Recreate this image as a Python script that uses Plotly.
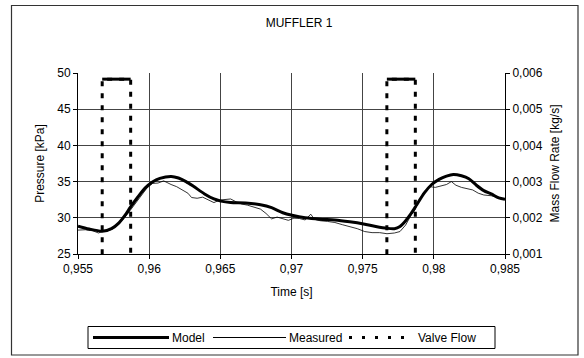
import plotly.graph_objects as go

# ---------------- data ----------------
model_t = [0.95500, 0.95578, 0.95670, 0.95735, 0.95788, 0.95840, 0.95866, 0.95918,
           0.95971, 0.96023, 0.96075, 0.96155, 0.96206, 0.96259, 0.96311, 0.96389,
           0.96455, 0.96504, 0.96572, 0.96677, 0.96782, 0.96860, 0.96939, 0.97004,
           0.97096, 0.97200, 0.97305, 0.97409, 0.97506, 0.97592, 0.97671, 0.97723,
           0.97762, 0.97802, 0.97841, 0.97880, 0.97932, 0.97985, 0.98037, 0.98089,
           0.98137, 0.98194, 0.98246, 0.98299, 0.98351, 0.98403, 0.98456, 0.98500]
model_p = [28.85, 28.45, 28.15, 28.5, 29.3, 30.6, 31.4, 32.8,
           34.1, 34.95, 35.45, 35.72, 35.5, 35.0, 34.35, 33.3,
           32.6, 32.3, 32.1, 32.05, 31.8, 31.4, 30.7, 30.35,
           30.0, 29.8, 29.7, 29.45, 29.15, 28.8, 28.55, 28.5,
           28.8, 29.6, 30.6, 31.8, 33.4, 34.6, 35.3, 35.75,
           35.98, 35.8, 35.4, 34.5, 33.75, 33.3, 32.75, 32.55]

meas_t = [0.95500, 0.95552, 0.95605, 0.95644, 0.95670, 0.95709, 0.95748, 0.95788,
          0.95827, 0.95866, 0.95905, 0.95945, 0.95984, 0.96023, 0.96062, 0.96102,
          0.96128, 0.96154, 0.96193, 0.96232, 0.96272, 0.96298, 0.96337, 0.96376,
          0.96415, 0.96455, 0.96494, 0.96533, 0.96572, 0.96612, 0.96651, 0.96690,
          0.96729, 0.96782, 0.96821, 0.96860, 0.96899, 0.96939, 0.96978, 0.97017,
          0.97056, 0.97096, 0.97135, 0.97161, 0.97200, 0.97252, 0.97305, 0.97357,
          0.97409, 0.97462, 0.97514, 0.97566, 0.97619, 0.97671, 0.97723, 0.97762,
          0.97802, 0.97841, 0.97867, 0.97893, 0.97932, 0.97972, 0.98011, 0.98050,
          0.98089, 0.98123, 0.98155, 0.98194, 0.98233, 0.98273, 0.98312, 0.98351,
          0.98403, 0.98456, 0.98500]
meas_p = [28.3, 28.35, 28.2, 27.9, 28.1, 28.2, 28.5, 29.2,
          30.0, 31.0, 32.0, 33.1, 34.1, 34.75, 34.8, 35.1,
          34.8, 34.6, 34.3, 33.8, 33.4, 32.8, 32.7, 32.85,
          32.5, 32.1, 32.45, 32.5, 32.6, 32.2, 31.9, 31.75,
          31.5, 31.2, 30.6, 29.85, 30.1, 29.85, 29.65, 29.95,
          29.9, 29.7, 30.5, 29.8, 29.6, 29.5, 29.35, 29.05,
          28.8, 28.5, 28.1, 27.95, 27.95, 27.8, 27.9, 28.1,
          29.0, 30.4, 31.1, 32.3, 33.6, 34.3, 34.2, 34.35,
          34.6, 35.0, 34.5, 34.2, 34.0, 33.85, 33.4, 33.15,
          33.05, 32.75, 32.5]

valve_t = [0.9567, 0.9567, 0.9587, 0.9587, None, 0.9767, 0.9767, 0.9787, 0.9787]
valve_q = [0.0, 0.00583, 0.00583, 0.0, None, 0.0, 0.00583, 0.00583, 0.0]

x_ticks = [0.955, 0.96, 0.965, 0.97, 0.975, 0.98, 0.985]
y_ticks = [25, 30, 35, 40, 45, 50]
y2_ticks = [0.001, 0.002, 0.003, 0.004, 0.005, 0.006]

legend_names = ["Model", "Measured", "Valve Flow"]

# ---------------- layout geometry (pixels) ----------------
W, H = 584, 358
L, R, T, B = 78, 505, 73, 254
FONT = "Liberation Sans, Arial, sans-serif"


def px(x):
    return (x - L) / (R - L)


def py(y):
    return (B - y) / (B - T)


# top (flat, non-zero) parts of the valve pulses, drawn solid as in the source
top_t, top_q = [], []
for i in range(len(valve_t) - 1):
    a, b = valve_q[i], valve_q[i + 1]
    if a is not None and b is not None and a == b and a > 0:
        top_t += [valve_t[i], valve_t[i + 1], None]
        top_q += [a, b, None]

fig = go.Figure()
fig.add_trace(go.Scatter(x=model_t, y=model_p, name=legend_names[0], mode="lines",
                         line=dict(color="black", width=3, shape="spline", smoothing=0.8),
                         showlegend=False))
fig.add_trace(go.Scatter(x=meas_t, y=meas_p, name=legend_names[1], mode="lines",
                         line=dict(color="black", width=0.8), showlegend=False))
fig.add_trace(go.Scatter(x=valve_t, y=valve_q, name=legend_names[2], mode="lines",
                         yaxis="y2", connectgaps=False,
                         line=dict(color="black", width=3, dash="5px,7px"),
                         showlegend=False))
fig.add_trace(go.Scatter(x=top_t, y=top_q, name=legend_names[2], mode="lines",
                         yaxis="y2", connectgaps=False, hoverinfo="skip",
                         line=dict(color="black", width=3), showlegend=False))

shapes = [
    # outer chart border
    dict(type="rect", xref="paper", yref="paper", x0=px(11.5), x1=px(578),
         y0=py(355), y1=py(5.5), line=dict(color="#333", width=1.2), layer="below"),
    # legend box
    dict(type="rect", xref="paper", yref="paper", x0=px(88), x1=px(495),
         y0=py(348.5), y1=py(326.5), line=dict(color="black", width=1)),
    # legend symbols
    dict(type="line", xref="paper", yref="paper", x0=px(93), x1=px(169),
         y0=py(337.5), y1=py(337.5), line=dict(color="black", width=3)),
    dict(type="line", xref="paper", yref="paper", x0=px(213), x1=px(286),
         y0=py(337.5), y1=py(337.5), line=dict(color="black", width=1)),
    dict(type="line", xref="paper", yref="paper", x0=px(349), x1=px(414),
         y0=py(337.5), y1=py(337.5), line=dict(color="black", width=3, dash="3px,10px")),
]
annotations = [
    dict(text=legend_names[0], xref="paper", yref="paper", x=px(170), y=py(337.5),
         xanchor="left", yanchor="middle", showarrow=False, font=dict(size=12)),
    dict(text=legend_names[1], xref="paper", yref="paper", x=px(287), y=py(337.5),
         xanchor="left", yanchor="middle", showarrow=False, font=dict(size=12)),
    dict(text=legend_names[2], xref="paper", yref="paper", x=px(416), y=py(337.5),
         xanchor="left", yanchor="middle", showarrow=False, font=dict(size=12)),
]

fig.update_layout(
    width=W, height=H,
    margin=dict(l=L, r=W - R, t=T, b=H - B, pad=0),
    paper_bgcolor="white", plot_bgcolor="white",
    separators=",.",
    font=dict(family=FONT, size=12, color="black"),
    title=dict(text="MUFFLER 1", x=299 / W, xref="container", xanchor="center",
               y=1 - 23 / H, yref="container", yanchor="middle",
               font=dict(size=12, color="black")),
    xaxis=dict(range=[0.955, 0.985], tickvals=x_ticks, showgrid=True,
               gridcolor="#444", gridwidth=1, zeroline=False,
               showline=True, linecolor="black", linewidth=1,
               ticks="outside", ticklen=4, tickcolor="black",
               tickfont=dict(size=12), title=dict(text="Time [s]", standoff=12,
                                                  font=dict(size=12))),
    yaxis=dict(range=[25, 50], tickvals=y_ticks, showgrid=True,
               gridcolor="#444", gridwidth=1, zeroline=False,
               showline=True, linecolor="black", linewidth=1,
               ticks="outside", ticklen=4, tickcolor="black",
               tickfont=dict(size=12), title=dict(text="Pressure [kPa]", standoff=10,
                                                  font=dict(size=12))),
    yaxis2=dict(range=[0.001, 0.006], tickvals=y2_ticks, overlaying="y", side="right",
                showgrid=False, zeroline=False, showline=True, linecolor="black",
                linewidth=1, ticks="outside", ticklen=4, tickcolor="black",
                tickformat=".3f", tickfont=dict(size=12),
                title=dict(text="Mass Flow Rate [kg/s]", standoff=8,
                           font=dict(size=12))),
    shapes=shapes,
    annotations=annotations,
    showlegend=False,
)

fig.write_html("out.html")
